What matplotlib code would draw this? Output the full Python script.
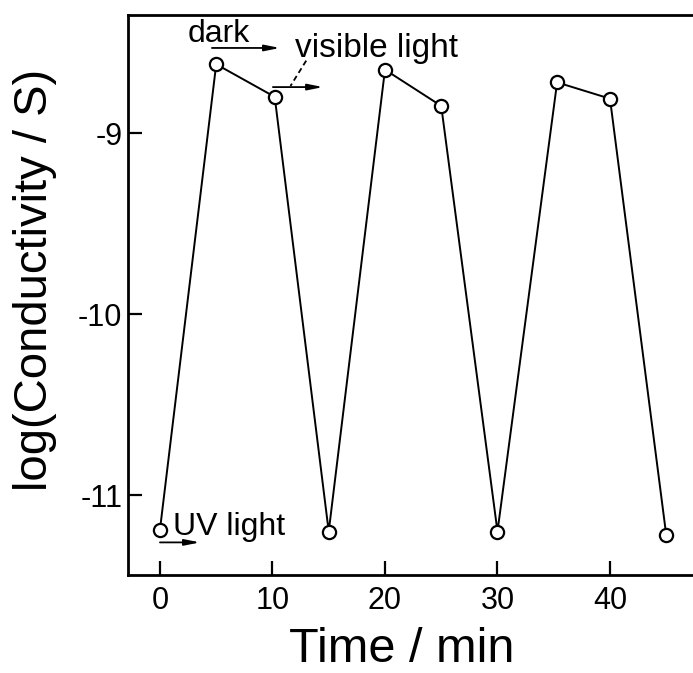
import matplotlib
matplotlib.use("Agg")
import matplotlib.pyplot as plt

plt.rcParams['font.family'] = ['Liberation Sans', 'DejaVu Sans']

# Data
time_min = [0, 5, 10.2, 15, 20, 25, 30, 35.3, 40, 45]
log_cond = [-11.19, -8.62, -8.80, -11.20, -8.65, -8.85, -11.20, -8.72, -8.81, -11.22]
x_ticks = [0, 10, 20, 30, 40]
y_ticks = [-9, -10, -11]
y_tick_labels = ['-9', '-10', '-11']

W, H = 693, 673
fig = plt.figure(figsize=(W / 100, H / 100), dpi=100)
ax = fig.add_axes([128 / W, (H - 575) / H, 572 / W, 560 / H])

ax.plot(time_min, log_cond, color='black', lw=1.4, marker='o', markersize=9.5,
        markerfacecolor='white', markeredgecolor='black', markeredgewidth=1.6,
        clip_on=False, zorder=3)

ax.set_xlim(-2.84, 48.0)
ax.set_ylim(-11.44, -8.348)
ax.set_xticks(x_ticks)
ax.set_yticks(y_ticks)
ax.set_yticklabels(y_tick_labels)
ax.tick_params(direction='in', length=10, width=1.6, labelsize=22)
ax.tick_params(axis='x', pad=8)
ax.tick_params(axis='y', pad=4)
for s in ax.spines.values():
    s.set_linewidth(2.0)
ax.spines['right'].set_visible(False)

fig.text(35 / W, 1 - 280 / H, 'log(Conductivity / S)', rotation=90,
         ha='center', va='center', fontsize=34)
fig.text(402 / W, 1 - 662 / H, 'Time / min', ha='center', va='baseline',
         fontsize=35)

arrow = dict(arrowstyle='-|>,head_length=0.9,head_width=0.18', color='black',
             lw=1.3, shrinkA=0, shrinkB=0)

ax.text(2.49, -8.497, 'dark', fontsize=23, ha='left', va='baseline')
ax.annotate('', xy=(10.67, -8.53), xytext=(4.62, -8.53), arrowprops=arrow)

ax.text(12.0, -8.58, 'visible light', fontsize=24, ha='left', va='baseline')
ax.plot([13.0, 11.6], [-8.60, -8.74], color='black', lw=1.3, ls=(0, (3, 2)))
ax.annotate('', xy=(14.5, -8.746), xytext=(10.04, -8.746), arrowprops=arrow)

ax.text(1.16, -11.22, 'UV light', fontsize=23, ha='left', va='baseline')
ax.annotate('', xy=(3.56, -11.26), xytext=(0.0, -11.26), arrowprops=arrow)

fig.savefig('out.png', dpi=100)
